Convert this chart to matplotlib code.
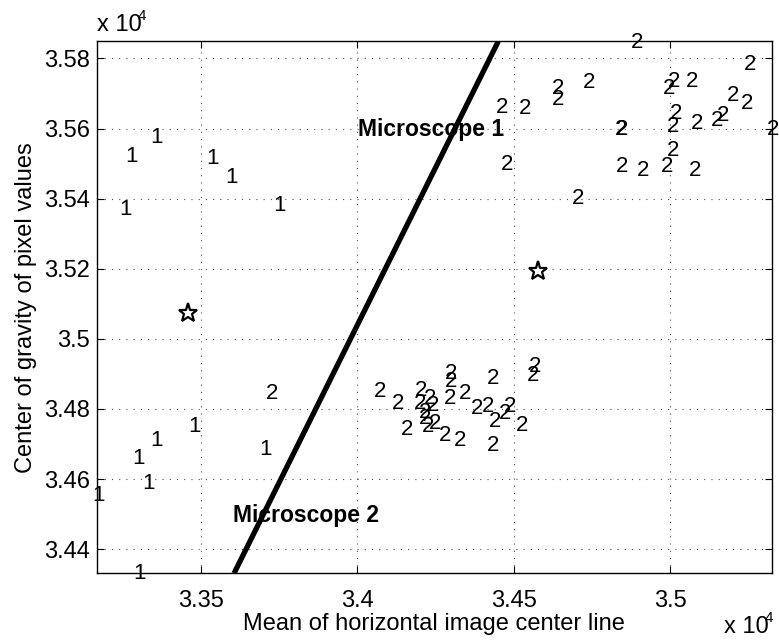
import matplotlib
matplotlib.use("Agg")
import matplotlib.pyplot as plt
from matplotlib.ticker import FixedLocator, FuncFormatter

plt.rcParams['font.family'] = ['Liberation Sans', 'DejaVu Sans']

# class 1 samples
c1_x = [33358, 33278, 33537, 33599, 33260, 33750, 33481, 33358, 33300, 33332, 33174, 33705, 33303]
c1_y = [35575, 35519, 35513, 35459, 35370, 35380, 34751, 34711, 34659, 34587, 34554, 34685, 34331]

# class 2 samples
c2_x = [34893, 35256, 34742, 34643, 34643, 34462, 34536, 35013, 34998, 35069, 35202, 35247, 35170,
        35149, 35085, 35019, 35011, 34843, 34848, 35330, 35011, 34478, 34846, 34913, 34991, 35080,
        34707,
        33729, 34073, 34131, 34204, 34200, 34232, 34243, 34216, 34216, 34227, 34248, 34158, 34280,
        34328, 34299, 34299, 34296, 34344, 34382, 34419, 34435, 34440, 34472, 34488, 34526, 34435,
        34568, 34563]
c2_y = [35845, 35783, 35730, 35714, 35684, 35660, 35657, 35733, 35714, 35733, 35695, 35670, 35638,
        35624, 35615, 35643, 35605, 35598, 35597, 35596, 35538, 35496, 35493, 35479, 35491, 35479,
        35401,
        34844, 34849, 34816, 34854, 34816, 34831, 34811, 34791, 34773, 34749, 34759, 34740, 34725,
        34711, 34901, 34877, 34830, 34844, 34801, 34806, 34887, 34763, 34787, 34806, 34754, 34697,
        34920, 34896]

# class centres
star_x = [33459, 34577]
star_y = [35074, 35194]

# decision boundary endpoints
bound_x = [33606, 34451]
bound_y = [34331, 35849]

xticks = [33500, 34000, 34500, 35000]
yticks = [34400, 34600, 34800, 35000, 35200, 35400, 35600, 35800]

fig = plt.figure(figsize=(7.79, 6.44), dpi=100)
ax = fig.add_axes([0.124, 0.110, 0.867, 0.826])

ax.plot(bound_x, bound_y, color='black', linewidth=3.8, solid_capstyle='butt', zorder=3)

fs = 16
for x, y in zip(c1_x, c1_y):
    ax.text(x, y, '1', ha='center', va='center', fontsize=fs, zorder=4)
for x, y in zip(c2_x, c2_y):
    ax.text(x, y, '2', ha='center', va='center', fontsize=fs, zorder=4)

ax.plot(star_x, star_y, linestyle='none', marker='*', markersize=14,
        markerfacecolor='white', markeredgecolor='black', markeredgewidth=1.6, zorder=5)

ax.text(34003, 35597, 'Microscope 1', fontsize=16.5, fontweight='bold', ha='left', va='center', zorder=6)
ax.text(33603, 34497, 'Microscope 2', fontsize=16.5, fontweight='bold', ha='left', va='center', zorder=6)

ax.set_xlim(33166.5, 35326)
ax.set_ylim(34331.5, 35849)
ax.xaxis.set_major_locator(FixedLocator(xticks))
ax.yaxis.set_major_locator(FixedLocator(yticks))
fmt = FuncFormatter(lambda v, p: '%g' % (v / 1e4))
ax.xaxis.set_major_formatter(fmt)
ax.yaxis.set_major_formatter(fmt)
ax.tick_params(direction='in', length=5, width=0.8, top=True, right=True,
               labelsize=17)
ax.tick_params(axis='x', pad=12)
ax.tick_params(axis='y', pad=5)
ax.grid(True, color='0.3', linestyle=(0, (1, 5.5)), linewidth=0.8)
for s in ax.spines.values():
    s.set_linewidth(1.0)

ax.set_xlabel('Mean of horizontal image center line', fontsize=17, labelpad=1)
ax.set_ylabel('Center of gravity of pixel values', fontsize=17, labelpad=5)

fig.text(97 / 779, 1 - 31 / 644, 'x 10', fontsize=17, ha='left', va='baseline')
fig.text(138 / 779, 1 - 20 / 644, '4', fontsize=11, ha='left', va='baseline')
fig.text(724 / 779, 1 - 633 / 644, 'x 10', fontsize=17, ha='left', va='baseline')
fig.text(765 / 779, 1 - 622 / 644, '4', fontsize=11, ha='left', va='baseline')

fig.savefig('out.png', dpi=100)
